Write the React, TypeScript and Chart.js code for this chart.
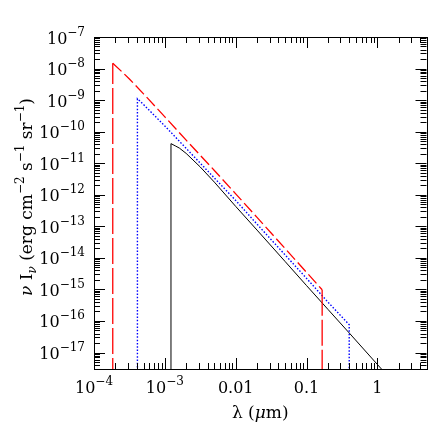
import React, { useEffect, useRef } from "react";
import { Chart, registerables } from "chart.js";

Chart.register(...registerables);

// ---- data (wavelength in micron, nu I_nu in erg cm^-2 s^-1 sr^-1) ----
const floorValue = 1e-18;

const redWavelength = [1.84e-4, 2.5e-4, 3.16e-4, 5e-4, 1e-3, 2e-3, 5e-3, 1e-2, 2e-2, 5e-2, 0.1, 0.166];
const redIntensity = [1.48e-8, 7.76e-9, 4.68e-9, 1.58e-9, 2.95e-10, 5.37e-11, 5.89e-12, 1.07e-12, 1.91e-13, 1.95e-14, 3.47e-15, 9.77e-16];

const blueWavelength = [4.1e-4, 5e-4, 1e-3, 2e-3, 5e-3, 0.01, 0.02, 0.05, 0.1, 0.2, 0.4];
const blueIntensity = [1.1e-9, 7.24e-10, 1.51e-10, 2.95e-11, 3.39e-12, 6.61e-13, 1.17e-13, 1.23e-14, 2.24e-15, 3.98e-16, 7.59e-17];

const blackWavelength = [1.22e-3, 1.4e-3, 1.6e-3, 2e-3, 2.5e-3, 3.16e-3, 5e-3, 0.01, 0.02, 0.05, 0.1, 0.2, 0.4, 1.0, 1.26];
const blackIntensity = [4.17e-11, 3.55e-11, 3.02e-11, 2.04e-11, 1.26e-11, 7.59e-12, 2.51e-12, 4.27e-13, 7.59e-14, 7.59e-15, 1.32e-15, 2.34e-16, 4.17e-17, 4.17e-18, 2.34e-18];

const xMin = 1e-4;
const xMax = 4.93;
const yMin = 3.3e-18;
const yMax = 1e-7;

const xTickLabels: { value: number; base: string; exp?: string }[] = [
  { value: 1e-4, base: "10", exp: "\u22124" },
  { value: 1e-3, base: "10", exp: "\u22123" },
  { value: 0.01, base: "0.01" },
  { value: 0.1, base: "0.1" },
  { value: 1, base: "1" },
];
const yTickExponents = [-7, -8, -9, -10, -11, -12, -13, -14, -15, -16, -17];

// ---- helpers ----
function closedCurve(xs: number[], ys: number[], closeEnd: boolean) {
  const pts: { x: number; y: number }[] = [{ x: xs[0], y: floorValue }];
  xs.forEach((x, i) => pts.push({ x, y: ys[i] }));
  if (closeEnd) pts.push({ x: xs[xs.length - 1], y: floorValue });
  return pts;
}

const FONT = "'DejaVu Serif', 'Liberation Serif', serif";

type Part = { t: string; size: number; italic?: boolean; dy?: number };

function partFont(p: Part) {
  return `${p.italic ? "italic " : ""}${p.size}px ${FONT}`;
}

function drawParts(ctx: CanvasRenderingContext2D, parts: Part[], x: number, y: number, align: "left" | "center" | "right") {
  let total = 0;
  for (const p of parts) {
    ctx.font = partFont(p);
    total += ctx.measureText(p.t).width;
  }
  let cx = align === "left" ? x : align === "center" ? x - total / 2 : x - total;
  ctx.textAlign = "left";
  ctx.textBaseline = "alphabetic";
  for (const p of parts) {
    ctx.font = partFont(p);
    ctx.fillText(p.t, cx, y + (p.dy || 0));
    cx += ctx.measureText(p.t).width;
  }
}

function minorValues(min: number, max: number) {
  const majors: number[] = [];
  const minors: number[] = [];
  const d0 = Math.floor(Math.log10(min));
  const d1 = Math.ceil(Math.log10(max));
  for (let d = d0; d <= d1; d++) {
    for (let k = 1; k <= 9; k++) {
      const v = k * Math.pow(10, d);
      if (v < min * 0.9999 || v > max * 1.0001) continue;
      if (k === 1) majors.push(v);
      else minors.push(v);
    }
  }
  return { majors, minors };
}

const framePlugin = {
  id: "framePlugin",
  afterDraw(chart: any) {
    const ctx: CanvasRenderingContext2D = chart.ctx;
    const { left, right, top, bottom } = chart.chartArea;
    const xs = chart.scales.x;
    const ys = chart.scales.y;
    ctx.save();
    ctx.strokeStyle = "#000";
    ctx.fillStyle = "#000";
    ctx.lineWidth = 1;
    // frame
    ctx.strokeRect(Math.round(left) + 0.5, Math.round(top) + 0.5, Math.round(right - left), Math.round(bottom - top));

    const majorLen = 11;
    const minorLen = 6;
    // x ticks
    const xt = minorValues(xMin, xMax);
    ctx.beginPath();
    const xTick = (v: number, len: number) => {
      const px = Math.round(xs.getPixelForValue(v)) + 0.5;
      ctx.moveTo(px, bottom);
      ctx.lineTo(px, bottom - len);
      ctx.moveTo(px, top);
      ctx.lineTo(px, top + len);
    };
    xt.majors.forEach((v) => xTick(v, majorLen));
    xt.minors.forEach((v) => xTick(v, minorLen));
    // y ticks
    const yt = minorValues(yMin, yMax);
    const yTick = (v: number, len: number) => {
      const py = Math.round(ys.getPixelForValue(v)) + 0.5;
      ctx.moveTo(left, py);
      ctx.lineTo(left + len, py);
      ctx.moveTo(right, py);
      ctx.lineTo(right - len, py);
    };
    yt.majors.forEach((v) => yTick(v, majorLen));
    yt.minors.forEach((v) => yTick(v, minorLen));
    ctx.stroke();

    // x tick labels
    for (const lab of xTickLabels) {
      const px = xs.getPixelForValue(lab.value);
      const parts: Part[] = [{ t: lab.base, size: 16 }];
      if (lab.exp) parts.push({ t: lab.exp, size: 12, dy: -8 });
      drawParts(ctx, parts, px, bottom + 24, "center");
    }
    // y tick labels
    for (const e of yTickExponents) {
      const py = ys.getPixelForValue(Math.pow(10, e));
      const parts: Part[] = [
        { t: "10", size: 16 },
        { t: "\u2212" + String(-e), size: 12, dy: -8 },
      ];
      drawParts(ctx, parts, left - 9, py + 6.5, "right");
    }

    // x title
    drawParts(
      ctx,
      [
        { t: "\u03bb (", size: 17 },
        { t: "\u03bc", size: 17, italic: true },
        { t: "m)", size: 17 },
      ],
      (left + right) / 2,
      bottom + 49,
      "center"
    );

    // y title (rotated)
    ctx.save();
    ctx.translate(32, (top + bottom) / 2 - 6);
    ctx.rotate(-Math.PI / 2);
    drawParts(
      ctx,
      [
        { t: "\u03bd", size: 17, italic: true },
        { t: " I", size: 17 },
        { t: "\u03bd", size: 12, italic: true, dy: 4 },
        { t: " (erg cm", size: 17 },
        { t: "\u22122", size: 12, dy: -8 },
        { t: " s", size: 17 },
        { t: "\u22121", size: 12, dy: -8 },
        { t: " sr", size: 17 },
        { t: "\u22121", size: 12, dy: -8 },
        { t: ")", size: 17 },
      ],
      0,
      0,
      "center"
    );
    ctx.restore();
    ctx.restore();
  },
};

export default function App() {
  const canvasRef = useRef<HTMLCanvasElement | null>(null);

  useEffect(() => {
    const canvas = canvasRef.current;
    if (!canvas) return;
    const isVertical = (c: any) => c.p0.parsed.x === c.p1.parsed.x;
    const chart = new Chart(canvas, {
      type: "line",
      data: {
        datasets: [
          {
            data: closedCurve(redWavelength, redIntensity, true),
            borderColor: "rgb(255,0,0)",
            borderWidth: 1.3,
            borderDash: [12, 4],
            pointRadius: 0,
            fill: false,
            tension: 0,
            segment: {
              borderDash: (c: any) => (isVertical(c) ? [26, 4] : [12, 4]),
            },
          } as any,
          {
            data: closedCurve(blueWavelength, blueIntensity, true),
            borderColor: "rgb(0,0,255)",
            borderWidth: 1.4,
            borderDash: [1.5, 1.8],
            pointRadius: 0,
            fill: false,
            tension: 0,
          },
          {
            data: closedCurve(blackWavelength, blackIntensity, false),
            borderColor: "#000",
            borderWidth: 1,
            pointRadius: 0,
            fill: false,
            tension: 0,
          },
        ],
      },
      options: {
        animation: false,
        responsive: false,
        maintainAspectRatio: false,
        events: [],
        layout: { padding: { top: 37, right: 9.5, left: 0, bottom: 0 } },
        plugins: {
          legend: { display: false },
          tooltip: { enabled: false },
        },
        scales: {
          x: {
            type: "logarithmic",
            min: xMin,
            max: xMax,
            grid: { display: false },
            border: { display: false },
            ticks: { display: false },
            afterFit: (s: any) => {
              s.height = 67;
            },
          },
          y: {
            type: "logarithmic",
            min: yMin,
            max: yMax,
            grid: { display: false },
            border: { display: false },
            ticks: { display: false },
            afterFit: (s: any) => {
              s.width = 94;
            },
          },
        },
      } as any,
      plugins: [framePlugin],
    });
    return () => chart.destroy();
  }, []);

  return (
    <div style={{ position: "fixed", left: 0, top: 0, width: 436, height: 436, background: "#fff" }}>
      <canvas ref={canvasRef} width={436} height={436} style={{ width: 436, height: 436 }} />
    </div>
  );
}
